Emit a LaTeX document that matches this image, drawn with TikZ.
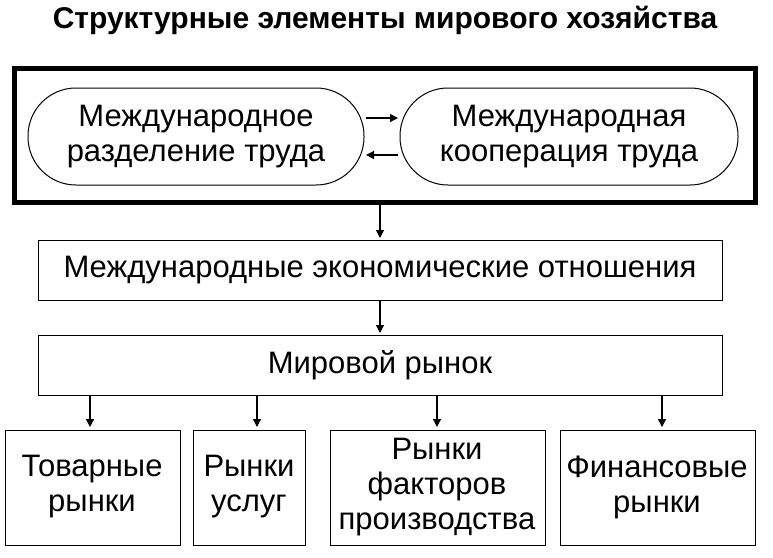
\documentclass[tikz,border=0pt]{standalone}
\usepackage{fontspec}
\setmainfont{Liberation Sans}
\usetikzlibrary{arrows.meta}
\tikzstyle{oval}    = [draw=black, line width=1pt, rounded corners=48pt]
\tikzstyle{box}     = [draw=black, line width=1pt]
\tikzstyle{boxtext} = [align=center, font=\fontsize{31}{35}\selectfont]
\tikzstyle{arrow}   = [line width=1.2pt, -{Triangle[length=8pt,width=8pt]}]
\begin{document}
\begin{tikzpicture}[x=1pt,y=-1pt]
\useasboundingbox (0,0) rectangle (773,557);
\node [font=\fontsize{30}{34}\selectfont\bfseries] (title) at (385,20) {Структурные элементы мирового хозяйства};
\draw [line width=5pt] (14,68) rectangle (755,202);
\draw [oval] (28,88) rectangle (364,185);
\draw [oval] (400,88) rectangle (738,185);
\node [boxtext] (mrt) at (196,137) {Международное\\разделение труда};
\node [boxtext] (mkt) at (569,137) {Международная\\кооперация труда};
\coordinate (a1) at (366,118); \coordinate (b1) at (398,118);
\coordinate (a2) at (398,155); \coordinate (b2) at (366,155);
\draw [arrow] (a1) -- (b1);
\draw [arrow] (a2) -- (b2);
\draw [box] (38,240) rectangle (722,300);
\node [boxtext] (meo) at (380,270) {Международные экономические отношения};
\draw [box] (38,335) rectangle (722,395);
\node [boxtext] (mr) at (380,365) {Мировой рынок};
\coordinate (top) at (380,204);
\draw [arrow] (top) -- (380,238);
\draw [arrow] (380,300) -- (380,333);
\draw [box] (5,430) rectangle (180,545);
\draw [box] (193,430) rectangle (305,545);
\draw [box] (330,430) rectangle (545,545);
\draw [box] (560,430) rectangle (755,545);
\node [boxtext] (tr) at (92,487) {Товарные\\рынки};
\node [boxtext] (ru) at (249,487) {Рынки\\услуг};
\node [boxtext] (rf) at (437,487) {Рынки\\факторов\\производства};
\node [boxtext] (fr) at (657,487) {Финансовые\\рынки};
\foreach \x in {90,257,437,662}
  \draw [arrow] (\x,395) -- (\x,427);
\end{tikzpicture}
\end{document}
